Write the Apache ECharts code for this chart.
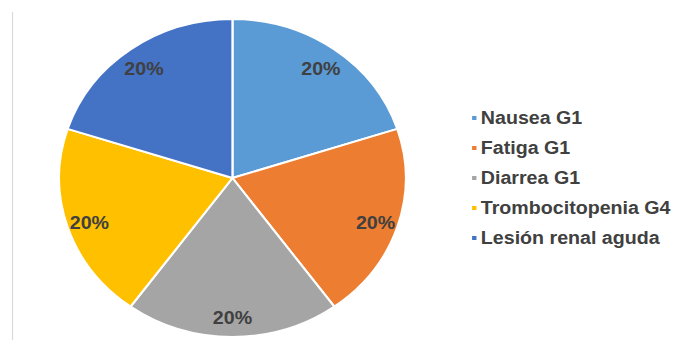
<!DOCTYPE html>
<html>
<head>
<meta charset="utf-8">
<script src="https://cdn.jsdelivr.net/npm/echarts@6/dist/echarts.min.js"></script>
<style>
  html, body { margin: 0; padding: 0; background: #fff; overflow: hidden; }
  #wrap { width: 676px; height: 340px; overflow: hidden; }
  /* the chart is laid out narrower and widened horizontally */
  #chart { width: 620px; height: 340px; transform: scaleX(1.0903); transform-origin: 0 0; }
</style>
</head>
<body>
<div id="wrap"><div id="chart"></div></div>
<script>
// Adverse events, one case each
const categories = ['Nausea G1', 'Fatiga G1', 'Diarrea G1', 'Trombocitopenia G4', 'Lesión renal aguda'];
const counts = [1, 1, 1, 1, 1];
const colors = ['#5B9BD5', '#ED7D31', '#A5A5A5', '#FFC000', '#4472C4'];

const FONT = '"Liberation Sans", Arial, sans-serif';
const pieData = categories.map((name, i) => ({ name, value: counts[i] }));

const chart = echarts.init(document.getElementById('chart'), null, { renderer: 'svg' });
chart.setOption({
  animation: false,
  color: colors,
  legend: {
    orient: 'vertical',
    left: 426,
    top: 104,
    itemWidth: 6,
    itemHeight: 6,
    itemGap: 12,
    icon: 'rect',
    selectedMode: false,
    textStyle: { fontFamily: FONT, fontSize: 18, fontWeight: 'bold', color: '#404040', lineHeight: 18, padding: [0, 0, 0, -2] },
    data: categories
  },
  graphic: [{
    type: 'line',
    shape: { x1: 11.5, y1: 12, x2: 11.5, y2: 340 },
    style: { stroke: '#d9d9d9', lineWidth: 1 },
    silent: true
  }],
  series: [
    {
      name: 'Eventos',
      type: 'pie',
      center: [213.2, 178],
      radius: [0, 159],
      startAngle: 90,
      clockwise: true,
      percentPrecision: 0,
      itemStyle: { borderColor: '#fff', borderWidth: 2 },
      label: { show: false },
      labelLine: { show: false },
      emphasis: { disabled: true },
      data: pieData
    },
    {
      // transparent ring that carries the percentage labels near the rim
      name: 'Porcentajes',
      type: 'pie',
      center: [213.2, 178],
      radius: [110, 160],
      startAngle: 90,
      clockwise: true,
      percentPrecision: 0,
      silent: true,
      itemStyle: { color: 'transparent', borderWidth: 0 },
      label: {
        show: true,
        position: 'inside',
        formatter: '{d}%',
        fontFamily: FONT,
        fontSize: 18,
        fontWeight: 'bold',
        color: '#404040',
        offset: [0, 2]
      },
      labelLine: { show: false },
      emphasis: { disabled: true },
      data: pieData
    }
  ]
});
</script>
</body>
</html>
